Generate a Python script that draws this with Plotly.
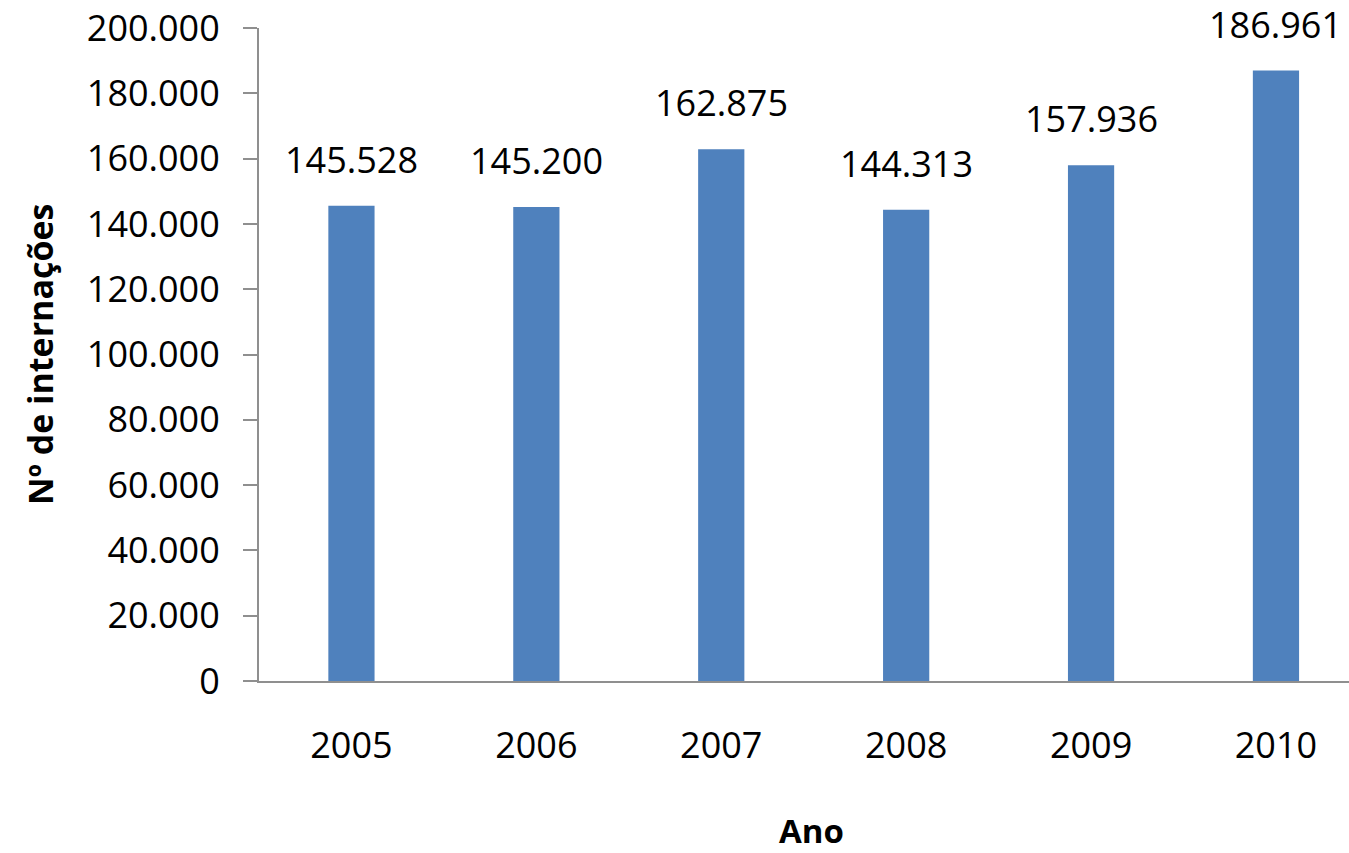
import plotly.graph_objects as go

anos = ["2005", "2006", "2007", "2008", "2009", "2010"]
internacoes = [145528, 145200, 162875, 144313, 157936, 186961]
y_ticks = [0, 20000, 40000, 60000, 80000, 100000, 120000, 140000, 160000, 180000, 200000]

FONT = "Open Sans"
BAR_COLOR = "#4F81BD"
AXIS_COLOR = "#8f8f8f"

def fmt(v):
    return f"{v:,}".replace(",", ".")

fig = go.Figure()
fig.add_trace(go.Bar(
    x=anos, y=internacoes, width=0.25,
    marker=dict(color=BAR_COLOR, line=dict(width=0)),
    hoverinfo="skip",
))

for i, v in enumerate(internacoes):
    fig.add_annotation(x=i, y=v, text=fmt(v), showarrow=False,
                       yanchor="bottom", xanchor="center", yshift=20,
                       font=dict(family=FONT, size=36, color="#000000"))

fig.add_annotation(xref="paper", yref="paper", x=-0.2009, y=0.5008,
                   text="<b>Nº de internações</b>", textangle=-90, showarrow=False,
                   xanchor="center", yanchor="middle",
                   font=dict(family=FONT, size=34, color="#000000"))
fig.add_annotation(xref="paper", yref="paper", x=0.5073, y=-0.2282,
                   text="<b>Ano</b>", showarrow=False,
                   xanchor="center", yanchor="middle",
                   font=dict(family=FONT, size=33, color="#000000"))

fig.update_layout(
    width=1349, height=853,
    margin=dict(l=259, r=0, t=28, b=172),
    paper_bgcolor="white", plot_bgcolor="white",
    separators=",.",
    showlegend=False,
    font=dict(family=FONT, size=36, color="#000000"),
)
fig.update_xaxes(
    type="category", range=[-0.5, 5.395],
    showline=True, linecolor=AXIS_COLOR, linewidth=2,
    showgrid=False, ticks="", ticklabelstandoff=32,
    tickfont=dict(family=FONT, size=36, color="#000000"),
)
fig.update_yaxes(
    range=[0, 200000], tickvals=y_ticks, tickformat=",d",
    showline=True, linecolor=AXIS_COLOR, linewidth=2,
    showgrid=False, ticks="outside", ticklen=14, tickwidth=2, tickcolor=AXIS_COLOR,
    ticklabelstandoff=16, zeroline=False,
    tickfont=dict(family=FONT, size=36, color="#000000"),
)

fig.write_html("out.html", config={"displayModeBar": False},
               post_script="document.body.style.margin='0';document.body.style.overflow='hidden';")
